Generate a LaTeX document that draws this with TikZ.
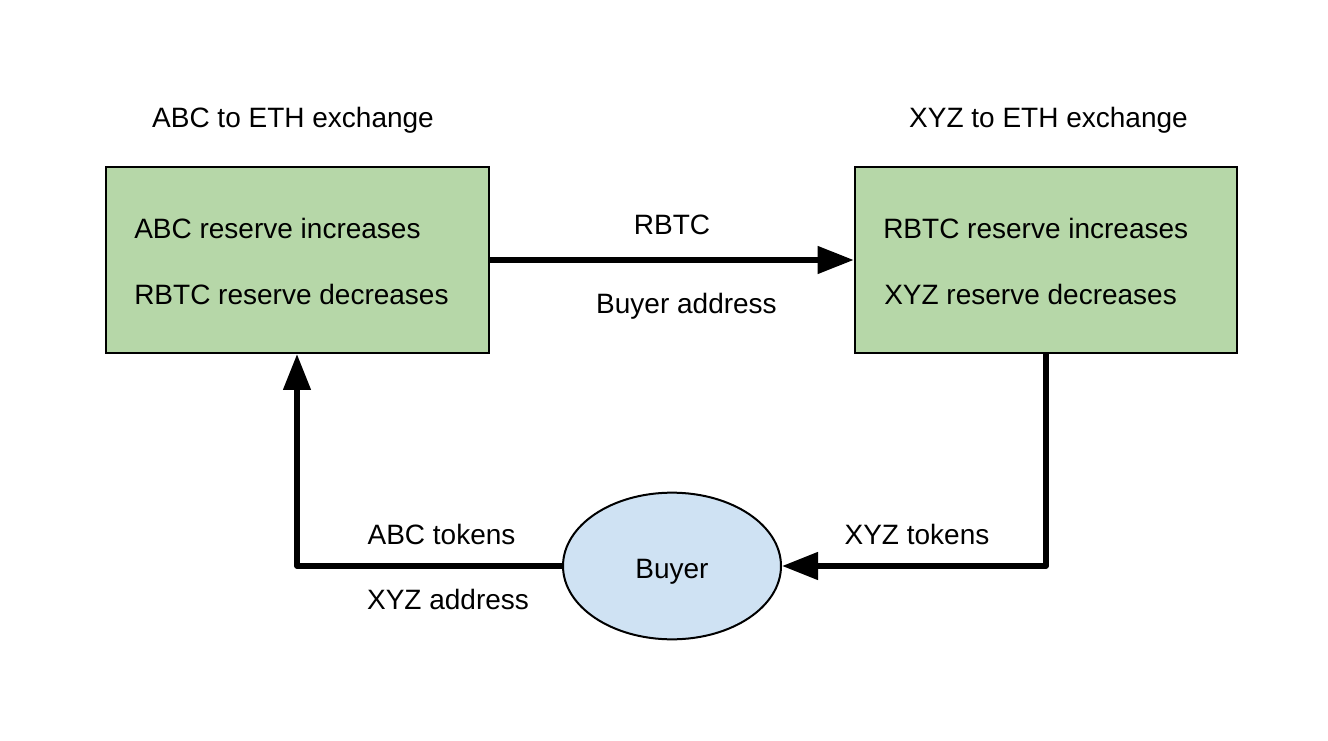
\documentclass[tikz,border=0pt]{standalone}
\usepackage{fontspec}
\setmainfont{Liberation Sans}
\usetikzlibrary{arrows.meta,shapes.geometric}
\definecolor{boxgreen}{HTML}{B6D7A8}
\definecolor{buyerblue}{HTML}{CFE2F3}
\tikzset{
  exchange/.style={draw, line width=1.5pt, fill=boxgreen,
    minimum width=287pt, minimum height=139.5pt, inner sep=0pt},
  buyer/.style={ellipse, draw, line width=1.5pt, fill=buyerblue,
    minimum width=163.5pt, minimum height=110pt, inner sep=0pt},
  lbl/.style={inner sep=0pt, font=\fontsize{21}{25}\selectfont},
  flow/.style={line width=4.2pt, line join=round,
    -{Triangle[length=27pt,width=20pt]}}
}
\begin{document}
\begin{tikzpicture}[x=0.75pt, y=-0.75pt]
      \useasboundingbox (0,0) rectangle (1328,741);
      \node[exchange] (abc) at (297.5,260) {};
      \node[exchange] (xyz) at (1046,260) {};
      \node[buyer, lbl] (buyer) at (672,566) {};
      \node[lbl, anchor=base] (bname) at (672,578) {Buyer};
      \node[lbl, anchor=base] (abctitle) at (293,128) {ABC to ETH exchange};
      \node[lbl, anchor=base] (xyztitle) at (1048.5,128) {XYZ to ETH exchange};
      \node[lbl, anchor=base west] (abcup) at (134,239) {ABC reserve increases};
      \node[lbl, anchor=base west] (abcdown) at (134,305) {RBTC reserve decreases};
      \node[lbl, anchor=base west] (xyzup) at (883,239) {RBTC reserve increases};
      \node[lbl, anchor=base west] (xyzdown) at (884,305) {XYZ reserve decreases};
      \node[lbl, anchor=base] (rbtc) at (672,235) {RBTC};
      \node[lbl, anchor=base] (baddr) at (686.5,314) {Buyer address};
      \node[lbl, anchor=base] (xyztok) at (917,544) {XYZ tokens};
      \node[lbl, anchor=base] (abctok) at (441.5,544) {ABC tokens};
      \node[lbl, anchor=base] (xaddr) at (448,609) {XYZ address};
      \coordinate (rturn) at (1046,566);
      \coordinate (lturn) at (297,566);
      \begin{scope}[flow]
        \draw (abc.east) to (xyz.west);
        \draw (xyz.south) -- (rturn) -- (buyer.east);
        \draw (buyer.west) -- (lturn) -- (abc.south -| lturn);
      \end{scope}
    \end{tikzpicture}
\end{document}
